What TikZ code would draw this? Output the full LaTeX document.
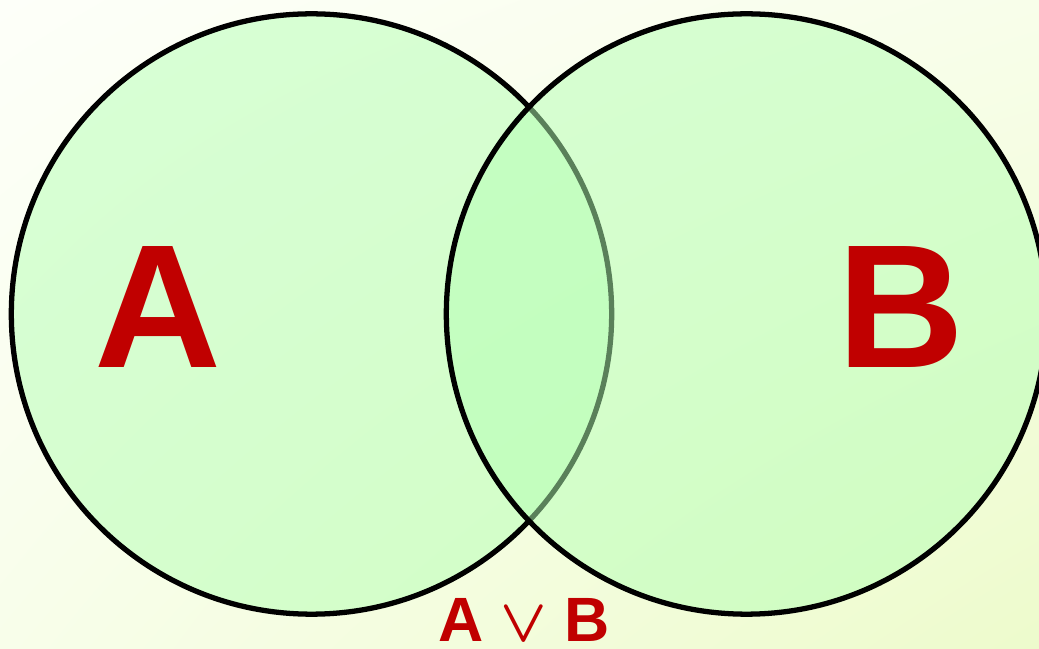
\documentclass[tikz,border=0pt]{standalone}
\usepackage{fontspec}
\setmainfont{Liberation Sans}
\usetikzlibrary{shadings}
\definecolor{bgwhite}{HTML}{FDFFF9}
\definecolor{bgpale}{HTML}{EDFBCC}
\definecolor{bgmid}{HTML}{F8FEEA}
\definecolor{setgreen}{HTML}{B4FFB4}
\definecolor{labelred}{HTML}{C00000}

\begin{document}
\begin{tikzpicture}[
  x=0.01cm, y=-0.01cm,
  setcircle/.style={circle, draw=black, line width=1.5pt, fill=setgreen,
                    fill opacity=0.5, draw opacity=1, minimum size=6cm, inner sep=0},
  biglbl/.style={labelred, inner sep=0, font=\fontsize{50}{50}\selectfont\bfseries},
  oplbl/.style={labelred, inner sep=0, font=\fontsize{17.8}{19}\selectfont\bfseries},
]
\useasboundingbox (0,0) rectangle (1039,649);
\clip (0,0) rectangle (1039,649);

% background gradient
\shade[upper left=bgwhite, upper right=bgmid, lower left=bgmid, lower right=bgpale]
  (0,0) rectangle (1039,649);

% the two sets
\node[setcircle] (setA) at (311.5,314) {};
\node[setcircle] (setB) at (746.5,314) {};

% labels
\node[biglbl] (labA) at (158,307.5) {A};
\node[biglbl] (labB) at (901,307) {B};
\node[oplbl, anchor=base] (labAB) at (524,642) {A {\boldmath$\vee$} B};

\end{tikzpicture}
\end{document}
